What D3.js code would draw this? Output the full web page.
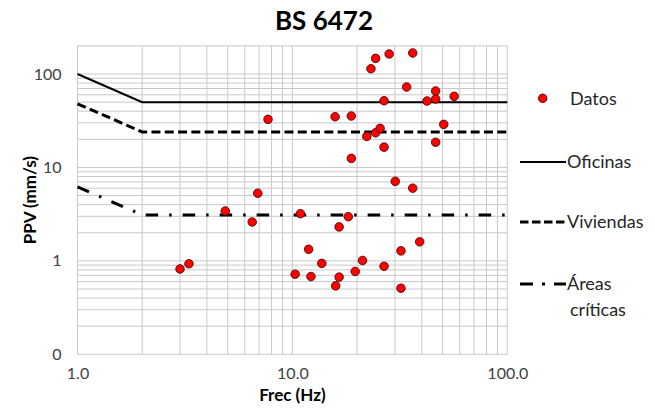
<!DOCTYPE html>
<html>
<head>
<meta charset="utf-8">
<script src="https://cdn.jsdelivr.net/npm/d3@7"></script>
<style>
  body { margin: 0; background: #fff; }
  text { font-family: Lato, 'Noto Sans', sans-serif; }
</style>
</head>
<body>
<div id="chart"></div>
<script>
// measured points (Hz, mm/s)
var freq = [3.0, 3.3, 4.87, 6.5, 6.9, 7.7, 10.3, 10.9, 11.9, 12.2, 13.7, 15.9, 16.5, 16.5,
  18.2, 15.8, 18.8, 18.8, 19.6, 21.2, 22.2, 24.4, 25.6, 26.7, 26.7, 23.2, 24.4, 28.2,
  36.3, 26.7, 30.1, 32.0, 32.0, 36.3, 34.0, 39.1, 42.3, 46.4, 46.4, 56.6, 50.6, 46.4]
var ppv = [0.82, 0.93, 3.42, 2.61, 5.3, 32.7, 0.72, 3.2, 1.33, 0.68, 0.94, 0.54, 0.67, 2.31,
  2.97, 34.9, 35.5, 12.5, 0.77, 1.01, 21.5, 23.5, 26.2, 16.5, 51.8, 114, 147, 164,
  168, 0.875, 7.1, 1.28, 0.51, 6.0, 72.6, 1.6, 51.4, 54, 65.8, 57.7, 28.9, 18.6]

// BS 6472 limit curves
var limitFreq = [1, 2, 100]
var oficinas = [100, 50, 50]
var viviendas = [48, 24, 24]
var areas = [6.2, 3.1, 3.1]

var xTicks = [1, 10, 100]
var yTicks = [0.1, 1, 10, 100]

var width = 655, height = 408
var plot = {left: 77.5, right: 507.3, top: 45.9, bottom: 354.3}

var svg = d3.select('#chart').append('svg')
  .attr('width', width).attr('height', height)

var x = d3.scaleLog().domain([1, 100]).range([plot.left, plot.right])
var y = d3.scaleLog().domain([0.1, 200]).range([plot.bottom, plot.top])

// grid lines, major + minor, log style
var xGrid = [], yGrid = []
;[1, 10].forEach(d => d3.range(1, 10).forEach(k => xGrid.push(k*d)))
xGrid.push(100)
;[0.1, 1, 10, 100].forEach(d => d3.range(1, 10).forEach(k => { if (k*d <= 200.001) yGrid.push(k*d) }))

var grid = svg.append('g').attr('stroke', '#c8c8c8').attr('stroke-width', 1)
grid.selectAll('line.v').data(xGrid).join('line')
  .attr('x1', d => x(d)).attr('x2', d => x(d))
  .attr('y1', plot.top).attr('y2', plot.bottom)
grid.selectAll('line.h').data(yGrid).join('line')
  .attr('x1', plot.left).attr('x2', plot.right)
  .attr('y1', d => y(d)).attr('y2', d => y(d))

// axes
var xAxis = svg.append('g')
  .attr('transform', `translate(0,${plot.bottom})`)
  .call(d3.axisBottom(x).tickValues(xTicks).tickFormat(d3.format('.1f')).tickSize(0).tickPadding(13))
var yAxis = svg.append('g')
  .attr('transform', `translate(${plot.left},0)`)
  .call(d3.axisLeft(y).tickValues(yTicks).tickFormat(d => d < 1 ? '0' : d).tickSize(0).tickPadding(16))
svg.selectAll('.domain').remove()
svg.selectAll('.tick text')
  .attr('font-family', 'Lato, sans-serif').attr('font-size', 16).attr('fill', '#404040')

// limit lines
var limits = [
  {name: 'Oficinas', values: oficinas, dash: null, w: 2},
  {name: 'Viviendas', values: viviendas, dash: '9,4.3', w: 3},
  {name: 'Áreas críticas', values: areas, dash: '12.5,11,2.5,11', w: 3}
]
var line = d3.line().x(d => x(d[0])).y(d => y(d[1]))

svg.selectAll('path.limit').data(limits).join('path')
  .attr('class', 'limit')
  .attr('d', d => line(limitFreq.map((f, i) => [f, d.values[i]])))
  .attr('fill', 'none').attr('stroke', '#000')
  .attr('stroke-width', d => d.w)
  .attr('stroke-dasharray', d => d.dash)

// data points
svg.selectAll('circle.dot').data(freq).join('circle')
  .attr('class', 'dot')
  .attr('cx', d => x(d)).attr('cy', (d, i) => y(ppv[i]))
  .attr('r', 4.3)
  .attr('fill', '#ff0000').attr('stroke', '#3a0000').attr('stroke-width', 0.8)

// titles
svg.append('text').text('BS 6472')
  .attr('x', 324).attr('y', 30).attr('text-anchor', 'middle')
  .attr('font-size', 26).attr('font-weight', 'bold').attr('fill', '#000')

svg.append('text').text('Frec (Hz)')
  .attr('x', (plot.left + plot.right)/2).attr('y', 401).attr('text-anchor', 'middle')
  .attr('font-size', 17).attr('font-weight', 'bold').attr('fill', '#000')

svg.append('text').text('PPV (mm/s)')
  .attr('transform', `translate(36,${(plot.top + plot.bottom)/2}) rotate(-90)`)
  .attr('text-anchor', 'middle')
  .attr('font-size', 17).attr('font-weight', 'bold').attr('fill', '#000')

// legend
var leg = svg.append('g')
leg.append('circle').attr('cx', 542.7).attr('cy', 98.3).attr('r', 4.3)
  .attr('fill', '#ff0000').attr('stroke', '#3a0000').attr('stroke-width', 0.8)
leg.append('text').text('Datos').attr('x', 570).attr('y', 104.5)
  .attr('font-size', 18).attr('fill', '#262626')

var legY = [162, 222, 284]
leg.selectAll('line.k').data(limits).join('line')
  .attr('x1', 520).attr('x2', 566)
  .attr('y1', (d, i) => legY[i]).attr('y2', (d, i) => legY[i])
  .attr('stroke', '#000').attr('stroke-width', d => d.w)
  .attr('stroke-dasharray', (d, i) => i == 1 ? '8.5,3.5' : i == 2 ? '13,9,3,9' : null)

leg.selectAll('text.k').data(limits).join('text')
  .attr('class', 'k')
  .attr('x', 567).attr('y', (d, i) => legY[i] + 6.3)
  .attr('font-size', 18).attr('fill', '#262626')
  .each(function(d){
    var words = d.name.split(' ')
    d3.select(this).selectAll('tspan').data(words).join('tspan')
      .attr('x', (w, j) => j ? 570 : 567)
      .attr('dy', (w, j) => j ? 26 : 0)
      .text(w => w)
  })
</script>
</body>
</html>
